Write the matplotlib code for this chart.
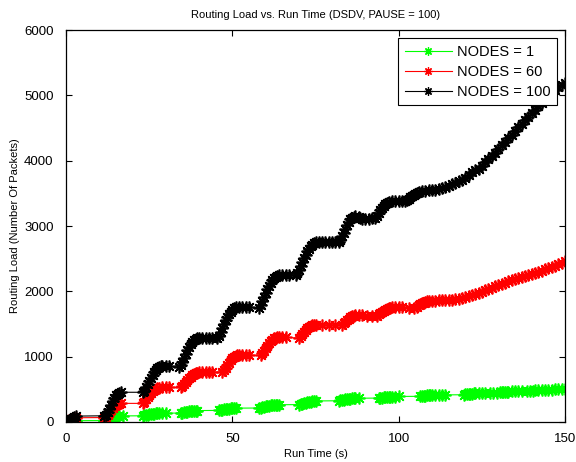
import matplotlib
matplotlib.use("Agg")
import matplotlib.pyplot as plt

plt.rcParams['font.family'] = ['Liberation Sans', 'DejaVu Sans']

title = "Routing Load vs. Run Time (DSDV, PAUSE = 100)"
xlabel = "Run Time (s)"
ylabel = "Routing Load (Number Of Packets)"
labels = ["NODES = 1", "NODES = 60", "NODES = 100"]
colors = ["#00ff00", "#ff0000", "#000000"]

# NODES = 100 (black)
t100 = [0, 0.5, 1, 1.5, 2, 2.5, 3,
        11.5,
        12, 12.5, 13, 13.5, 14, 14.5, 15, 15.5, 16, 16.5,
        23,
        23.5, 24, 24.5, 25, 25.5, 26, 26.5, 27, 27.5, 28, 28.5, 29, 30, 31,
        34,
        34.5, 35, 35.5, 36, 36.5, 37, 37.5, 38, 38.5, 39, 39.5, 40, 41, 42, 43, 44,
        45.5,
        46, 46.5, 47, 47.5, 48, 48.5, 49, 49.5, 50, 50.5, 51, 52, 53, 54, 55,
        58,
        58.5, 59, 59.5, 60, 60.5, 61, 61.5, 62, 62.5, 63, 63.5, 64, 65, 66, 67,
        69,
        69.5, 70, 70.5, 71, 71.5, 72, 72.5, 73, 73.5, 74, 74.5, 75, 76, 77, 78, 79, 80, 81,
        82,
        82.5, 83, 83.5, 84, 84.5, 85, 85.5, 86, 86.5, 87, 88, 88.5, 89, 90, 91, 92, 93,
        93.5, 94, 94.5, 95, 95.5, 96, 96.5, 97, 98, 99, 100, 101, 102,
        102.5, 103, 103.5, 104, 104.5, 105, 105.5, 106, 107, 108, 109, 110, 111, 112,
        113, 114, 115, 116, 117, 118, 119, 120, 121, 122, 123, 124, 125, 126, 127,
        128, 129, 130, 131, 132, 133, 134, 135, 136, 137, 138, 139, 140, 141, 142,
        143, 144, 145, 146, 147, 148, 149, 150]
v100 = [0, 15, 35, 50, 65, 80, 90,
        95,
        110, 150, 200, 260, 320, 370, 410, 435, 450, 455,
        455,
        480, 530, 580, 630, 680, 725, 765, 800, 825, 840, 850, 855, 855, 850,
        840,
        870, 920, 980, 1040, 1100, 1150, 1195, 1230, 1255, 1270, 1280, 1285, 1290, 1290, 1285, 1285,
        1285,
        1320, 1380, 1440, 1500, 1560, 1610, 1650, 1690, 1720, 1740, 1755, 1765, 1765, 1760, 1755,
        1750,
        1790, 1850, 1910, 1970, 2030, 2080, 2130, 2170, 2200, 2225, 2240, 2250, 2255, 2255, 2250,
        2245,
        2280, 2330, 2390, 2450, 2510, 2560, 2610, 2650, 2690, 2715, 2735, 2750, 2760, 2760, 2755, 2750, 2750, 2750,
        2755,
        2790, 2840, 2900, 2960, 3010, 3060, 3100, 3130, 3145, 3150, 3140, 3120, 3105, 3100, 3110, 3120, 3130,
        3160, 3200, 3240, 3280, 3310, 3335, 3355, 3370, 3380, 3385, 3385, 3380, 3385,
        3400, 3420, 3440, 3460, 3480, 3495, 3510, 3520, 3535, 3540, 3545, 3550, 3555, 3565,
        3580, 3600, 3620, 3640, 3660, 3685, 3710, 3740, 3780, 3820, 3850, 3880, 3925, 3975, 4025,
        4075, 4125, 4180, 4235, 4290, 4345, 4400, 4455, 4510, 4565, 4620, 4675, 4725, 4775, 4830,
        4880, 4930, 4985, 5035, 5085, 5130, 5165, 5195]

# NODES = 60 (red)
t60 = [0, 0.5, 1, 1.5, 2, 2.5, 3,
       11.5,
       12, 12.5, 13, 13.5, 14, 14.5, 15, 15.5, 16, 16.5,
       23,
       23.5, 24, 24.5, 25, 25.5, 26, 26.5, 27, 27.5, 28, 29, 30, 31,
       34.5,
       35, 35.5, 36, 36.5, 37, 37.5, 38, 38.5, 39, 39.5, 40, 41, 42, 43, 44,
       47,
       47.5, 48, 48.5, 49, 49.5, 50, 50.5, 51, 51.5, 52, 53, 54, 55,
       58.5,
       59, 59.5, 60, 60.5, 61, 61.5, 62, 62.5, 63, 63.5, 64, 65, 66,
       70,
       70.5, 71, 71.5, 72, 72.5, 73, 73.5, 74, 74.5, 75,
       77, 79, 81,
       83, 83.5, 84, 84.5, 85, 85.5, 86, 86.5, 87, 88, 89,
       90.5, 92,
       93.5, 94, 94.5, 95, 95.5, 96, 96.5, 97, 97.5, 98, 99, 100, 101,
       103, 104.5,
       105.5, 106, 106.5, 107, 107.5, 108, 108.5, 109, 110, 111, 112, 113, 114, 115,
       116, 117, 118, 119, 120, 121, 122, 123, 124, 125, 126, 127, 128, 129, 130,
       131, 132, 133, 134, 135, 136, 137, 138, 139, 140, 141, 142, 143, 144, 145,
       146, 147, 148, 149, 150]
v60 = [0, 15, 30, 42, 52, 60, 65,
       68,
       80, 110, 145, 180, 215, 245, 265, 278, 283, 285,
       285,
       310, 345, 380, 415, 445, 470, 490, 505, 515, 522, 528, 530, 530,
       530,
       550, 580, 610, 640, 670, 695, 715, 730, 745, 755, 760, 765, 765, 765, 762,
       762,
       790, 830, 870, 910, 945, 975, 995, 1010, 1018, 1022, 1025, 1025, 1022,
       1020,
       1050, 1090, 1130, 1170, 1205, 1235, 1260, 1280, 1290, 1295, 1298, 1298, 1295,
       1285,
       1310, 1345, 1380, 1410, 1435, 1455, 1470, 1480, 1487, 1490,
       1488, 1485, 1485,
       1490, 1510, 1535, 1560, 1580, 1600, 1615, 1625, 1632, 1636, 1635,
       1630, 1625,
       1630, 1650, 1670, 1690, 1705, 1718, 1730, 1740, 1748, 1753, 1758, 1760, 1758,
       1752, 1750,
       1765, 1785, 1800, 1815, 1828, 1838, 1845, 1850, 1855, 1858, 1860, 1862, 1865, 1870,
       1875, 1880, 1890, 1905, 1920, 1935, 1950, 1965, 1980, 1995, 2015, 2035, 2055, 2075, 2095,
       2115, 2135, 2155, 2175, 2195, 2210, 2225, 2240, 2255, 2270, 2285, 2300, 2315, 2335, 2355,
       2375, 2395, 2420, 2440, 2460]

# NODES = 1 (green)
t1 = [0, 1, 2, 3,
      11.5,
      12, 12.5, 13, 13.5, 14, 14.5, 15, 15.5, 16, 17,
      23,
      23.5, 24, 24.5, 25, 25.5, 26, 26.5, 27, 27.5, 28, 29, 30,
      34.5,
      35, 35.5, 36, 36.5, 37, 37.5, 38, 38.5, 39, 39.5,
      46,
      46.5, 47, 47.5, 48, 48.5, 49, 49.5, 50, 50.5, 51,
      58,
      58.5, 59, 59.5, 60, 60.5, 61, 61.5, 62, 62.5, 63, 63.5, 64,
      70,
      70.5, 71, 71.5, 72, 72.5, 73, 73.5, 74, 74.5, 75,
      82,
      82.5, 83, 83.5, 84, 84.5, 85, 85.5, 86, 86.5, 87, 88,
      94,
      94.5, 95, 95.5, 96, 96.5, 97, 97.5, 98, 99, 100,
      106.5,
      107, 107.5, 108, 108.5, 109, 109.5, 110, 111, 112, 113, 114,
      119.5,
      120, 120.5, 121, 121.5, 122, 122.5, 123, 124, 125, 126,
      127.5, 128.5, 129.5,
      130.5, 131, 131.5, 132, 132.5, 133, 134, 135, 136, 137,
      138.5, 139.5,
      140.5, 141, 142, 143, 144, 145, 146, 147, 148, 149, 150]
v1 = [0, 8, 15, 20,
      22,
      30, 42, 55, 66, 75, 82, 87, 90, 92, 93,
      95,
      100, 106, 112, 117, 121, 125, 128, 130, 132, 133, 134, 135,
      137,
      142, 148, 154, 159, 164, 168, 171, 173, 174, 175,
      177,
      182, 188, 194, 199, 203, 206, 208, 210, 211, 212,
      214,
      220, 227, 234, 240, 246, 251, 255, 258, 260, 262, 263, 264,
      266,
      272, 280, 288, 295, 302, 308, 313, 317, 320, 322,
      325,
      330, 336, 342, 347, 351, 355, 358, 360, 362, 363, 364,
      366,
      370, 374, 378, 381, 384, 386, 388, 389, 390, 391,
      393,
      397, 401, 404, 407, 409, 411, 412, 413, 414, 415, 415,
      417,
      421, 425, 429, 432, 435, 437, 439, 441, 442, 443,
      445, 447, 449,
      452, 455, 458, 461, 463, 465, 467, 468, 469, 470,
      473, 476,
      480, 483, 487, 490, 493, 495, 497, 499, 501, 503, 505]

fig = plt.figure(figsize=(5.76, 4.62), dpi=100)
ax = fig.add_axes([0.1146, 0.0866, 0.8663, 0.8484])

marker = (8, 2, 0)
for t, v, c, lab in [(t1, v1, colors[0], labels[0]),
                     (t60, v60, colors[1], labels[1]),
                     (t100, v100, colors[2], labels[2])]:
    ax.plot(t, v, color=c, linewidth=0.8, marker=marker, markersize=8.5,
            markeredgewidth=1.2, markeredgecolor=c, markerfacecolor=c, label=lab)

ax.set_xlim(0, 150)
ax.set_ylim(0, 6000)
ax.set_xticks([0, 50, 100, 150])
ax.set_yticks([0, 1000, 2000, 3000, 4000, 5000, 6000])
ax.tick_params(direction='in', top=True, right=True, length=4, width=0.8,
               labelsize=9.5)
ax.tick_params(axis='y', pad=9)
ax.tick_params(axis='x', pad=8)
for s in ax.spines.values():
    s.set_linewidth(0.9)

ax.set_title(title, fontsize=8, pad=9)
ax.set_xlabel(xlabel, fontsize=8, labelpad=3)
ax.set_ylabel(ylabel, fontsize=8, labelpad=3)

leg = ax.legend(loc='upper right', fontsize=10.5, handlelength=3.2, numpoints=1,
                fancybox=False, framealpha=1, edgecolor='black',
                borderaxespad=0.55, labelspacing=0.42, handletextpad=0.35,
                borderpad=0.45)
leg.get_frame().set_linewidth(0.8)
for h in leg.legend_handles:
    h.set_markersize(6)
    h.set_markeredgewidth(0.9)

fig.savefig("out.png", dpi=100)
